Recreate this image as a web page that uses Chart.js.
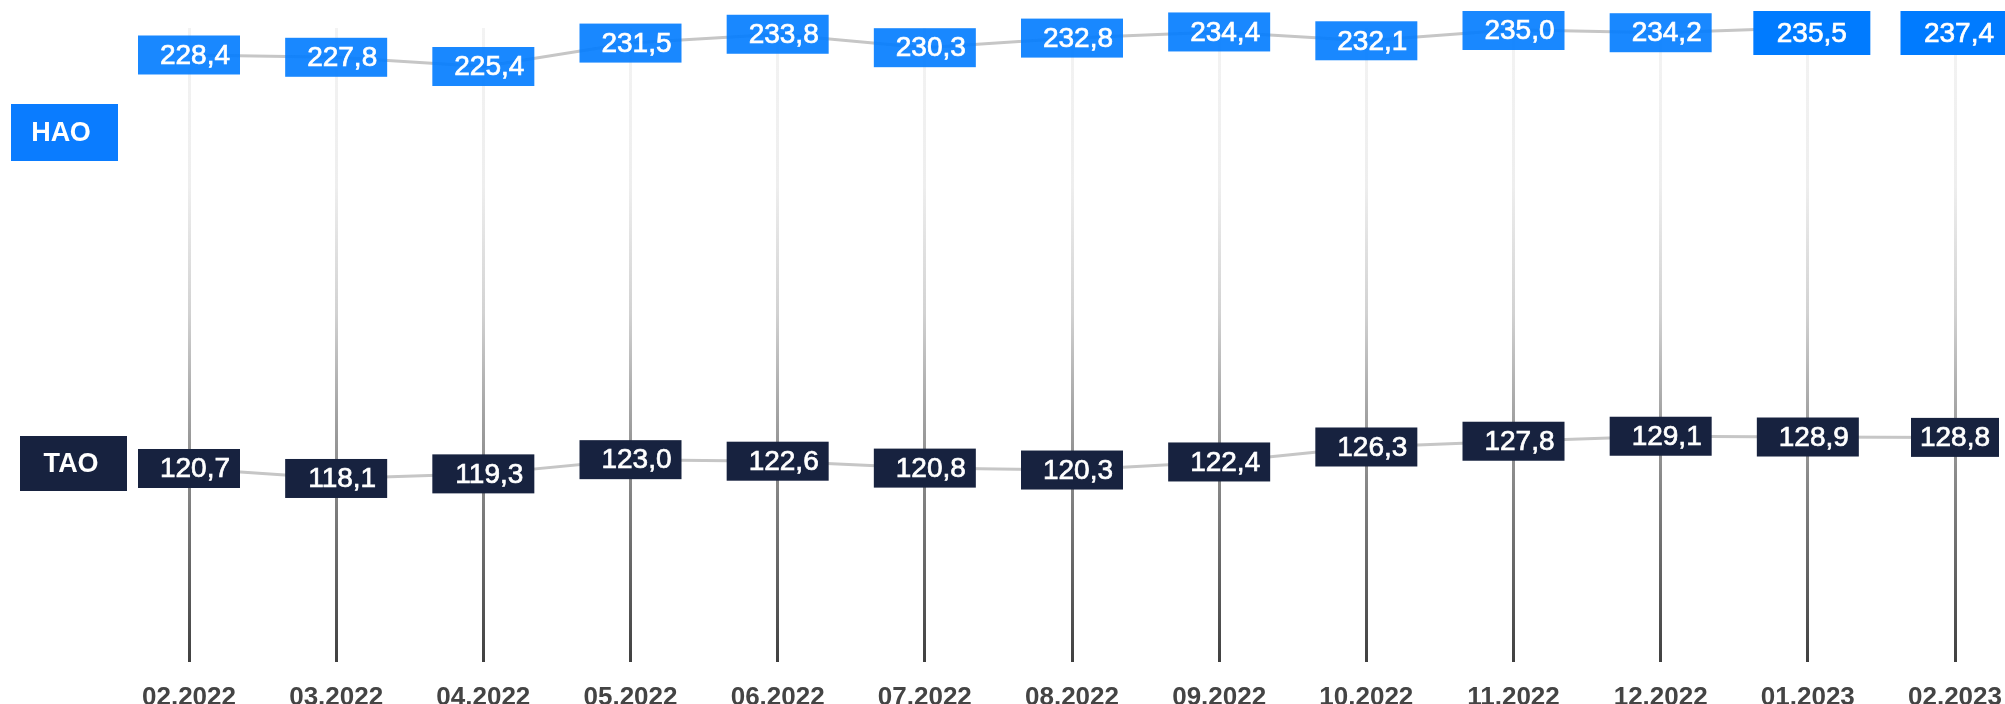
<!DOCTYPE html>
<html>
<head>
<meta charset="utf-8">
<script src="https://cdn.jsdelivr.net/npm/chart.js@4.4.1/dist/chart.umd.min.js"></script>
<style>
  body { margin: 0; background: #fff; }
  canvas { display: block; }
</style>
</head>
<body>
<canvas id="myChart" width="2005" height="704"></canvas>
<script>
const months = ["02.2022", "03.2022", "04.2022", "05.2022", "06.2022", "07.2022", "08.2022",
  "09.2022", "10.2022", "11.2022", "12.2022", "01.2023", "02.2023"];
const haoValues = [228.4, 227.8, 225.4, 231.5, 233.8, 230.3, 232.8, 234.4, 232.1, 235.0, 234.2, 235.5, 237.4];
const taoValues = [120.7, 118.1, 119.3, 123.0, 122.6, 120.8, 120.3, 122.4, 126.3, 127.8, 129.1, 128.9, 128.8];
const seriesNames = ["НАО", "ТАО"];

const fontFamily = "'Liberation Sans', Arial, Helvetica, sans-serif";
const blue = "#0a7cff";
const navy = "#17223f";

const fmt = (v) => v.toFixed(1).replace(".", ",");

// box look for each value label
const boxStyle = (di, i, n) => {
  if (di === 0) {
    if (i >= n - 2) return { w: 117, h: 44, fill: "#007bff", dx: 4, bx: 4 };
    return { w: 102, h: 39, fill: "rgba(0, 123, 255, 0.9)", dx: 6, bx: 0 };
  }
  if (i === n - 1) return { w: 88, h: 39, fill: navy, dx: 0, bx: 0 };
  return { w: 102, h: 39, fill: navy, dx: 6, bx: 0 };
};

const valueBoxes = {
  id: "valueBoxes",
  afterDatasetsDraw(chart) {
    const ctx = chart.ctx;
    ctx.save();
    ctx.font = "28px " + fontFamily;
    ctx.textAlign = "center";
    ctx.textBaseline = "middle";
    ctx.lineWidth = 0.7;
    ctx.strokeStyle = "#fff";
    chart.data.datasets.forEach((ds, di) => {
      const meta = chart.getDatasetMeta(di);
      meta.data.forEach((pt, i) => {
        const s = boxStyle(di, i, ds.data.length);
        const y = Math.max(pt.y, 11 + s.h / 2);
        const x = pt.x + s.bx;
        ctx.fillStyle = s.fill;
        ctx.fillRect(x - s.w / 2, y - s.h / 2, s.w, s.h);
        ctx.fillStyle = "#fff";
        ctx.fillText(fmt(ds.data[i]), pt.x + s.dx, y + 1);
        ctx.strokeText(fmt(ds.data[i]), pt.x + s.dx, y + 1);
      });
    });
    ctx.restore();
  },
};

// series name boxes on the left
const nameBoxes = {
  id: "nameBoxes",
  afterDraw(chart) {
    const ctx = chart.ctx;
    const boxes = [
      { x: 11, y: 104, w: 107, h: 57, fill: blue, tx: 61, ty: 134 },
      { x: 20, y: 436, w: 107, h: 55, fill: navy, tx: 71, ty: 465 },
    ];
    ctx.save();
    ctx.font = "bold 27px " + fontFamily;
    ctx.textAlign = "center";
    ctx.textBaseline = "middle";
    boxes.forEach((b, k) => {
      ctx.fillStyle = b.fill;
      ctx.fillRect(b.x, b.y, b.w, b.h);
      ctx.fillStyle = "#fff";
      ctx.fillText(seriesNames[k], b.tx, b.ty);
    });
    ctx.restore();
  },
};

const gridColor = (context) => {
  const chart = context.chart;
  const area = chart.chartArea;
  if (!area) return "#999";
  const g = chart.ctx.createLinearGradient(0, area.top, 0, area.bottom);
  g.addColorStop(0, "#f3f3f3");
  g.addColorStop(0.25, "#eeeeee");
  g.addColorStop(0.45, "#d2d2d2");
  g.addColorStop(0.62, "#a0a0a0");
  g.addColorStop(1, "#404040");
  return g;
};

const ctx = document.getElementById("myChart");

const mychart = new Chart(ctx, {
  type: "line",
  data: {
    labels: months,
    datasets: [
      {
        label: seriesNames[0],
        data: haoValues,
        borderColor: "#c6c6c6",
        borderWidth: 3,
        pointRadius: 0,
        tension: 0,
      },
      {
        label: seriesNames[1],
        data: taoValues,
        borderColor: "#c6c6c6",
        borderWidth: 3,
        pointRadius: 0,
        tension: 0,
      },
    ],
  },
  options: {
    responsive: false,
    animation: false,
    layout: { padding: { left: 189, right: 50, top: 28, bottom: 0 } },
    plugins: {
      legend: { display: false },
      tooltip: { enabled: false },
    },
    scales: {
      x: {
        offset: false,
        border: { display: false },
        grid: { color: gridColor, lineWidth: 3, drawTicks: false },
        ticks: {
          color: "#444",
          padding: 29,
          font: { family: fontFamily, size: 26, weight: "bold", lineHeight: 0.5 },
          maxRotation: 0,
          autoSkip: false,
        },
        afterFit: (scale) => {
          // labels may hang over the edges, layout padding decides the plot width
          scale.height = 42;
          scale.paddingLeft = 0;
          scale.paddingRight = 0;
        },
      },
      y: {
        display: false,
        min: 70.3,
        max: 235.43,
      },
    },
  },
  plugins: [valueBoxes, nameBoxes],
});
</script>
</body>
</html>
